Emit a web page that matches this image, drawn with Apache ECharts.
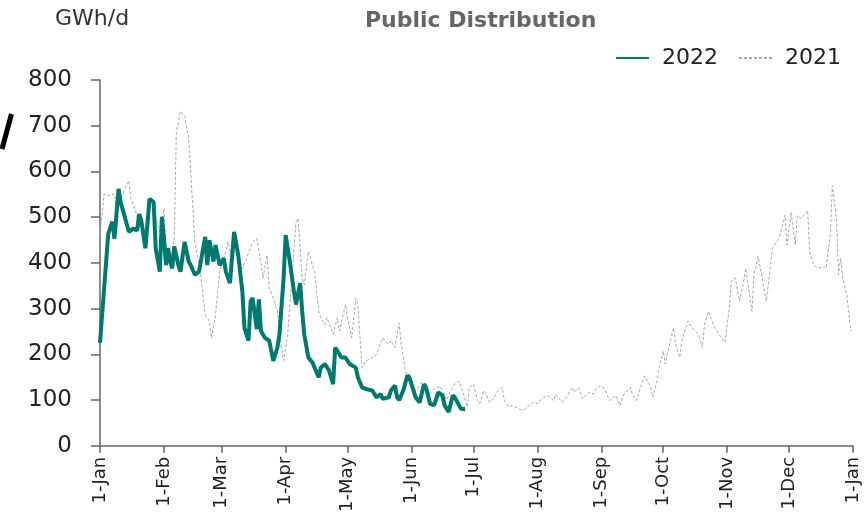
<!DOCTYPE html>
<html>
<head>
<meta charset="utf-8">
<script src="https://cdn.jsdelivr.net/npm/echarts@6/dist/echarts.min.js"></script>
<style>
html,body{margin:0;padding:0;background:#fff;}
#chart{width:867px;height:515px;}
</style>
</head>
<body>
<div id="chart"></div>
<script>
// Month tick positions (day of year) and labels
const monthStarts = [0,31,59,90,120,151,181,212,243,273,304,334,365];
const monthLabels = ['1-Jan','1-Feb','1-Mar','1-Apr','1-May','1-Jun','1-Jul','1-Aug','1-Sep','1-Oct','1-Nov','1-Dec','1-Jan'];
const yTicks = [0,100,200,300,400,500,600,700,800];

// 2022 series (day of year, GWh/d)
const days2022 = [0,4,6,7,9,10,14,16,18,19,20,22,24,26,27,29,30,31,32,33,34,35,36,38,39,41,43,44,46,48,51,52,53,55,56,58,60,61,63,65,67,69,70,72,73,74,76,77,78,80,82,84,86,87,89,90,92,94,95,97,98,99,101,103,106,107,109,111,113,114,115,117,119,121,124,125,127,129,132,134,136,137,140,141,143,144,145,147,149,150,151,153,155,157,158,160,162,164,166,167,169,171,172,174,175,177];
const values2022 = [225,464,490,453,562,533,468,475,471,507,493,432,540,533,432,381,501,453,395,432,403,388,436,395,381,446,403,395,374,381,457,395,450,403,439,395,410,381,356,468,417,338,258,230,316,323,255,320,251,236,230,186,215,244,367,461,403,338,309,356,295,244,193,182,150,171,179,165,135,215,208,193,193,179,171,150,128,124,121,106,113,103,106,121,132,106,100,121,154,150,135,106,95,135,128,92,89,117,110,89,74,110,106,89,81,80];

// 2021 series (day of year, GWh/d)
const days2021 = [0,2,5,7,8,11,14,15,17,19,22,24,27,29,31,32,34,36,37,39,41,43,44,46,49,51,53,54,56,58,61,62,64,66,69,71,74,76,78,79,81,82,84,86,87,89,91,92,94,95,96,98,99,101,102,104,106,107,109,110,113,115,116,119,120,122,124,125,127,129,132,134,137,138,140,141,143,145,146,148,150,153,156,159,162,165,168,170,172,174,176,178,179,181,183,184,186,187,189,191,193,195,196,198,200,203,205,208,210,212,215,217,220,221,224,226,229,230,232,234,237,239,241,243,245,247,250,252,254,257,258,260,262,264,267,268,270,271,273,274,275,278,279,281,282,285,287,290,292,293,295,296,298,300,303,305,306,308,310,312,313,316,317,319,321,323,325,326,327,329,330,332,333,335,337,338,340,343,344,346,348,351,352,354,355,357,358,359,360,362,364];
const values2021 = [460,551,547,551,518,551,580,540,518,482,446,497,497,468,518,439,403,453,685,732,721,670,598,446,367,287,273,236,287,381,425,446,410,432,388,410,446,453,400,367,417,345,323,295,244,186,244,309,425,490,497,367,352,425,410,381,295,280,265,280,244,280,251,309,280,236,323,309,171,186,193,200,236,230,222,230,215,269,222,165,143,120,140,110,125,130,100,120,135,142,117,85,128,135,99,92,121,113,95,106,121,128,99,85,88,81,77,88,95,92,106,110,99,113,95,106,128,117,128,103,117,113,128,132,121,99,110,88,113,128,113,99,128,153,128,106,142,171,208,179,200,258,222,193,229,273,258,244,215,265,294,280,258,244,226,302,359,367,316,359,388,294,374,414,367,316,395,432,439,453,468,504,439,511,439,504,497,515,425,395,388,392,388,461,569,497,374,410,367,330,251];

const FONT = 'DejaVu Sans';
const chart = echarts.init(document.getElementById('chart'), null, {renderer:'canvas'});
chart.setOption({
  animation:false,
  backgroundColor:'#ffffff',
  title:{
    text:'Public Distribution',
    left:360, top:5,
    textStyle:{fontFamily:FONT, fontWeight:'bold', fontSize:22, color:'#666666'}
  },
  legend:{
    right:21, top:42,
    itemWidth:33, itemHeight:14, itemGap:20,
    itemStyle:{opacity:0},
    textStyle:{fontFamily:FONT, fontSize:22, color:'#222222', padding:[0,0,0,8]},
    data:['2022','2021']
  },
  graphic:[
    {type:'text', left:55, top:8, style:{text:'GWh/d', font:'22px "DejaVu Sans"', fill:'#333333'}},
    {type:'line', shape:{x1:11.5,y1:114,x2:2,y2:149}, style:{stroke:'#000000', lineWidth:5}}
  ],
  grid:{left:100, right:14, top:80, bottom:66, containLabel:false},
  xAxis:{
    type:'value', min:0, max:365,
    axisLine:{show:true, lineStyle:{color:'#666666', width:1.5}},
    axisTick:{show:true, length:7, customValues:monthStarts, lineStyle:{color:'#666666', width:1.5}},
    axisLabel:{
      customValues:monthStarts, rotate:90, margin:11,
      fontFamily:FONT, fontSize:18, color:'#222222',
      formatter:function(v){const i=monthStarts.indexOf(Math.round(v)); return i>=0?monthLabels[i]:'';}
    },
    splitLine:{show:false}
  },
  yAxis:{
    type:'value', min:yTicks[0], max:yTicks[yTicks.length-1], interval:100,
    axisLine:{show:true, lineStyle:{color:'#666666', width:1.5}},
    axisTick:{show:true, length:9, lineStyle:{color:'#666666', width:1.5}},
    axisLabel:{margin:28, fontFamily:FONT, fontSize:23, color:'#222222'},
    splitLine:{show:false}
  },
  series:[
    {
      name:'2022', type:'line', symbol:'none', z:5,
      data:days2022.map((d,i)=>[d,values2022[i]]),
      lineStyle:{color:'#007A6E', width:4},
      itemStyle:{color:'#007A6E'}
    },
    {
      name:'2021', type:'line', symbol:'none', z:2,
      data:days2021.map((d,i)=>[d,values2021[i]]),
      lineStyle:{color:'#a8a8a8', width:1, type:[3,2]},
      itemStyle:{color:'#a8a8a8'}
    }
  ]
});
</script>
</body>
</html>
